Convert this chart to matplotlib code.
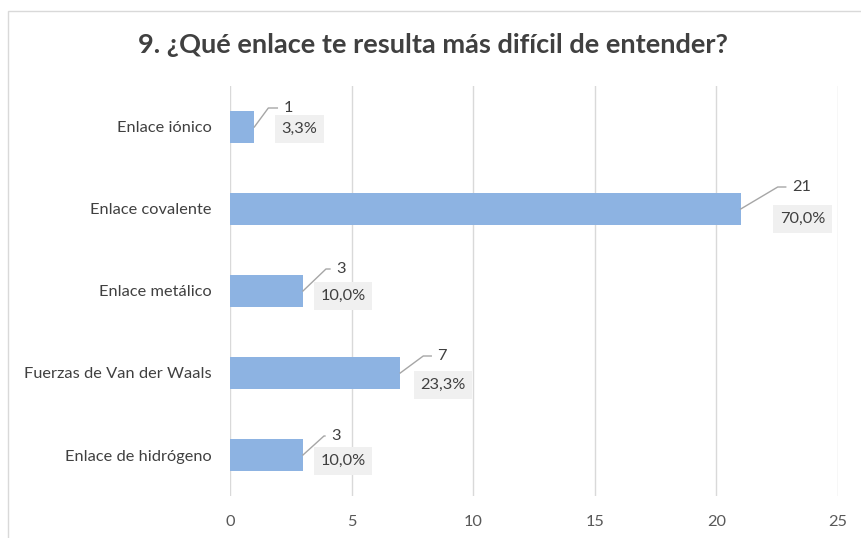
import matplotlib
matplotlib.use('Agg')
import matplotlib.pyplot as plt
from matplotlib.patches import Rectangle

plt.rcParams['font.family'] = ['Lato', 'DejaVu Sans']

titulo = '9. ¿Qué enlace te resulta más difícil de entender?'
categorias = ['Enlace iónico', 'Enlace covalente', 'Enlace metálico',
              'Fuerzas de Van der Waals', 'Enlace de hidrógeno']
respuestas = [1, 21, 3, 7, 3]
porcentajes = ['3,3%', '70,0%', '10,0%', '23,3%', '10,0%']
ticks_x = [0, 5, 10, 15, 20, 25]

# label placement in pixels relative to bar end (elbow x, elbow y, text x, box x, box y)
offs = [(14, 19, 29, 45, -2),
        (37, 22, 51, 62, -10),
        (23, 22, 33, 40, -5),
        (23, 17, 37, 43, -12),
        (21, 19, 28, 40, -6)]

fig = plt.figure(figsize=(8.62, 5.38), dpi=100)
fig.patches.append(Rectangle((8 / 862, -0.1), 1.2, 1 - 11 / 538 + 0.1,
                             transform=fig.transFigure, fill=False,
                             edgecolor='#d9d9d9', linewidth=1))
ax = fig.add_axes([230 / 862, 1 - 496 / 538, 608 / 862, 410 / 538])

y = list(range(len(categorias)))
ax.barh(y, respuestas, height=0.4, color='#8db3e2', zorder=3)
ax.set_ylim(len(categorias) - 0.5, -0.5)
ax.set_xlim(0, 25)
ax.set_xticks(ticks_x)
ax.set_yticks(y)
ax.set_yticklabels(categorias)
ax.tick_params(axis='both', length=0, labelsize=11.8, colors='#404040')
ax.tick_params(axis='x', pad=14, colors='#595959')
ax.tick_params(axis='y', pad=13)
ax.grid(axis='x', color='#d9d9d9', linewidth=1, zorder=0)
for s in ax.spines.values():
    s.set_visible(False)

inv = fig.transFigure.inverted()
for i, (v, p) in enumerate(zip(respuestas, porcentajes)):
    ex, ey, tx, bx, by = offs[i]
    x0, y0 = ax.transData.transform((v, i))
    # leader line: bar end -> elbow -> short horizontal tail
    pts = inv.transform([(x0, y0), (x0 + ex, y0 + ey), (x0 + tx - 6, y0 + ey)])
    fig.add_artist(plt.Line2D(pts[:, 0], pts[:, 1], color='#a6a6a6', lw=1,
                              transform=fig.transFigure))
    ax.annotate(str(v), xy=(v, i), xytext=(tx, ey), textcoords='offset pixels',
                ha='left', va='center', fontsize=11.8, color='#404040')
    ax.annotate(p, xy=(v, i), xytext=(bx, by), textcoords='offset pixels',
                ha='center', va='center', fontsize=11.8, color='#404040',
                bbox=dict(boxstyle='square,pad=0.4', fc='#f0f0f0', ec='none'))

fig.text(433 / 862, 1 - 45 / 538, titulo, ha='center', va='center',
         fontsize=19.5, fontweight='bold', color='#404040')

fig.savefig('out.png', dpi=100, facecolor='white')
